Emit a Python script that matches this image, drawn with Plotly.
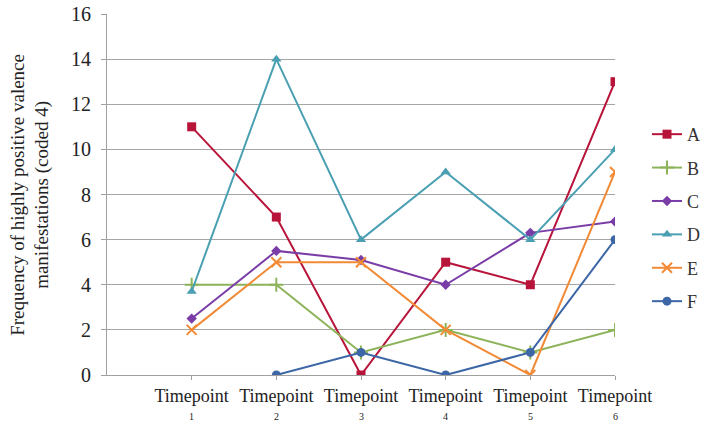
import plotly.graph_objects as go

timepoints = [1, 2, 3, 4, 5, 6]
tick_labels = ["Timepoint"] * 6
tick_numbers = ["1", "2", "3", "4", "5", "6"]
series_names = ["A", "B", "C", "D", "E", "F"]
A = [11, 7, 0, 5, 4, 13]
B = [4, 4, 1, 2, 1, 2]
C = [2.5, 5.5, 5.1, 4, 6.3, 6.8]
D = [3.7, 14, 6, 9, 6, 10]
E = [2, 5, 5, 2, 0, 9]
F = [None, 0, 1, 0, 1, 6]
values = [A, B, C, D, E, F]

colors = ["#B8143A", "#8DB35A", "#7A3CA6", "#4A9FB2", "#F28A35", "#3C66A6"]
symbols = ["square", "cross-thin-open", "diamond", "triangle-up", "x-thin-open", "circle"]
sizes = [9, 10, 8, 9, 10, 9]

fig = go.Figure()
for i, (name, vals) in enumerate(zip(series_names, values)):
    fig.add_trace(go.Scatter(
        x=timepoints, y=vals, name=name, mode="lines+markers",
        line=dict(color=colors[i], width=2),
        marker=dict(symbol=symbols[i], size=sizes[i], color=colors[i],
                    line=dict(color=colors[i], width=2 if "open" in symbols[i] else 0)),
        legendgroup=name, connectgaps=False,
    ))

annotations = [dict(
    text="Frequency of highly positive valence<br>manifestations (coded 4)",
    xref="paper", yref="paper", x=-0.151, y=0.5, xanchor="center", yanchor="middle",
    textangle=-90, showarrow=False, font=dict(size=19, color="#222222"),
)]
for t, num in zip(timepoints, tick_numbers):
    annotations.append(dict(
        text=num, x=t, xref="x", y=-0.114, yref="paper", xanchor="center",
        yanchor="middle", showarrow=False, font=dict(size=10, color="#222222"),
    ))

fig.update_layout(
    width=705, height=423,
    margin=dict(l=107, r=90, t=14, b=48, autoexpand=False),
    paper_bgcolor="white", plot_bgcolor="white",
    font=dict(family="Liberation Serif", size=15, color="#333333"),
    showlegend=True,
    legend=dict(x=1.063, y=0.435, xanchor="left", yanchor="middle",
                font=dict(size=18, color="#333333"), tracegroupgap=7,
                bgcolor="rgba(0,0,0,0)"),
    annotations=annotations,
)
fig.update_xaxes(
    range=[0, 6], tickmode="array", tickvals=timepoints, ticktext=tick_labels,
    showgrid=False, showline=True, linecolor="#A0A0A0", linewidth=1,
    ticks="outside", ticklen=4, tickcolor="#A0A0A0", automargin=False,
    tickfont=dict(size=18, color="#222222"), zeroline=False,
)
fig.update_yaxes(
    range=[0, 16], dtick=2, showgrid=True, gridcolor="#A6A6A6", gridwidth=1,
    showline=True, linecolor="#A0A0A0", linewidth=1, automargin=False,
    ticks="outside", ticklen=5, tickcolor="#A0A0A0", ticklabelstandoff=6,
    tickfont=dict(size=20, color="#222222"), zeroline=False,
)

fig.write_html("out.html", config={"displayModeBar": False},
               post_script="document.body.style.margin='0';document.body.style.overflow='hidden';")
